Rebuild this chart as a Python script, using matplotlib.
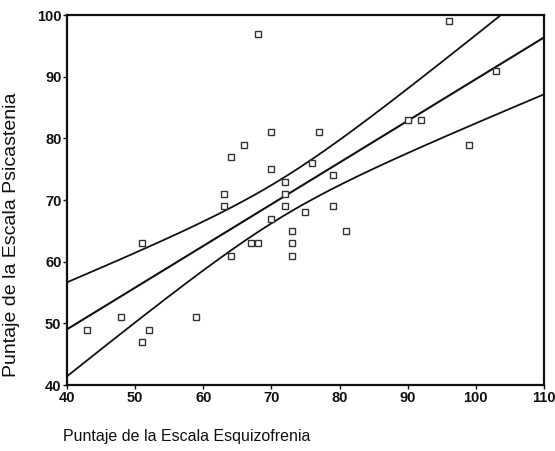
import numpy as np
import matplotlib
matplotlib.use("Agg")
import matplotlib.pyplot as plt

plt.rcParams['font.family'] = ['Liberation Sans', 'DejaVu Sans']

# puntajes T de cada sujeto
esquizofrenia = [43, 48, 51, 51, 52, 59, 63, 63, 64, 67, 68, 70, 72, 72, 72, 73, 73,
                 73, 75, 79, 81, 68, 70, 66, 64, 70, 96, 103, 90, 92, 99, 77, 76, 79]
psicastenia = [49, 51, 63, 47, 49, 51, 71, 69, 61, 63, 63, 67, 73, 71, 69, 65, 63,
               61, 68, 69, 65, 97, 81, 79, 77, 75, 99, 91, 83, 83, 79, 81, 76, 74]

x = np.array(esquizofrenia, dtype=float)
y = np.array(psicastenia, dtype=float)
n = len(x)

# recta de regresion e intervalo de confianza 95% para la media
b, a = np.polyfit(x, y, 1)
resid = y - (a + b * x)
s = np.sqrt(np.sum(resid ** 2) / (n - 2))
sxx = np.sum((x - x.mean()) ** 2)
t = 2.037
xs = np.linspace(40, 110, 200)
yhat = a + b * xs
hw = t * s * np.sqrt(1.0 / n + (xs - x.mean()) ** 2 / sxx)

fig = plt.figure(figsize=(5.55, 4.51), dpi=100)
ax = fig.add_axes([0.1207, 0.1463, 0.8593, 0.8204])

ax.plot(xs, yhat, color='#111111', lw=1.5)
ax.plot(xs, yhat + hw, color='#111111', lw=1.3)
ax.plot(xs, yhat - hw, color='#111111', lw=1.3)
ax.plot(x, y, linestyle='none', marker='s', markersize=4.2, markerfacecolor='white',
        markeredgecolor='#333333', markeredgewidth=1.0)

ax.set_xlim(40, 110)
ax.set_ylim(40, 100)
ax.set_xticks(range(40, 111, 10))
ax.set_yticks(range(40, 101, 10))
ax.tick_params(direction='out', length=3, width=1, labelsize=10.5, pad=1, colors='#111111')
for lab in ax.get_xticklabels() + ax.get_yticklabels():
    lab.set_fontweight('bold')
for sp in ax.spines.values():
    sp.set_linewidth(1.6)
    sp.set_color('#111111')

fig.text(12 / 555, 1 - 235 / 451, 'Puntaje de la Escala Psicastenia', rotation=90,
         ha='center', va='center', fontsize=14, color='#111111')
fig.text(63 / 555, 1 - 437 / 451, 'Puntaje de la Escala Esquizofrenia',
         ha='left', va='center', fontsize=11.5, color='#111111')

fig.savefig('out.png', dpi=100)
